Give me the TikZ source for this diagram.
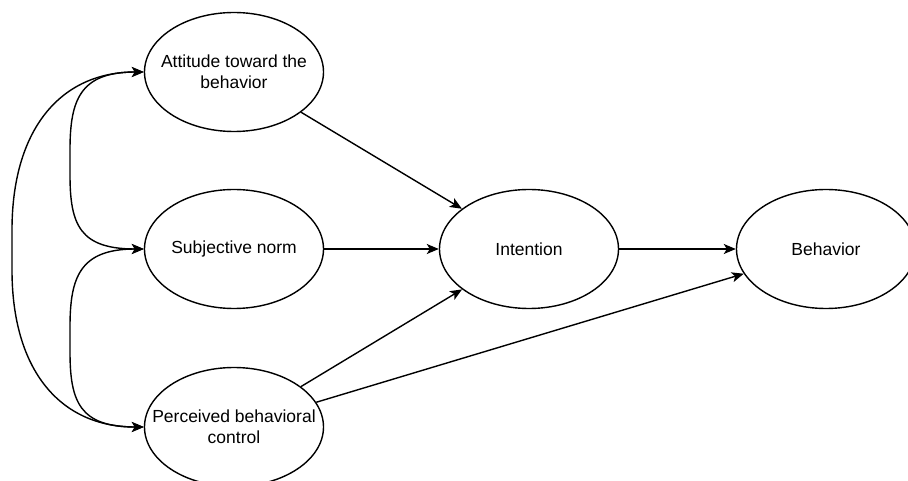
\documentclass[tikz,border=0pt]{standalone}
\usepackage{fontspec}
\setmainfont{Liberation Sans}
\usetikzlibrary{shapes.geometric,arrows.meta}
\begin{document}
\begin{tikzpicture}[x=1pt,y=-1pt,
  ell/.style={ellipse,draw,line width=1.4pt,minimum width=179pt,minimum height=119pt,inner sep=0pt},
  txt/.style={align=center,font=\fontsize{17.5}{21}\selectfont,inner sep=0pt},
  arr/.style={line width=1.4pt,-{Stealth[length=12pt,width=10pt,inset=3pt]}},
  barr/.style={line width=1.4pt,{Stealth[length=12pt,width=10pt,inset=3pt]}-{Stealth[length=12pt,width=10pt,inset=3pt]}}]
\useasboundingbox (0,0) rectangle (908,481);
\node[ell] (att) at (234,72) {};
\node[ell] (sn) at (234,249) {};
\node[ell] (pbc) at (234,427) {};
\node[ell] (int) at (529,249) {};
\node[ell] (beh) at (826,249) {};
\node[txt] (attt) at (att) {Attitude toward the\\behavior};
\node[txt] (snt) at (sn) {Subjective norm};
\node[txt] (pbct) at (pbc) {Perceived behavioral\\control};
\node[txt] (intt) at (int) {Intention};
\node[txt] (beht) at (beh) {Behavior};
\draw[arr] (att) -- (int);
\draw[arr] (sn) -- (int);
\draw[arr] (pbc) -- (int);
\draw[arr] (pbc) -- (beh);
\draw[arr] (int) -- (beh);
\draw[barr] (att.west) .. controls (80,72) and (70,100) .. (70,150) -- (70,175) .. controls (70,225) and (80,249) .. (sn.west);
\draw[barr] (sn.west) .. controls (80,249) and (70,277) .. (70,327) -- (70,352) .. controls (70,402) and (80,427) .. (pbc.west);
\draw[barr] (att.west) .. controls (60,72) and (12,130) .. (12,230) -- (12,270) .. controls (12,370) and (60,427) .. (pbc.west);
\end{tikzpicture}
\end{document}
